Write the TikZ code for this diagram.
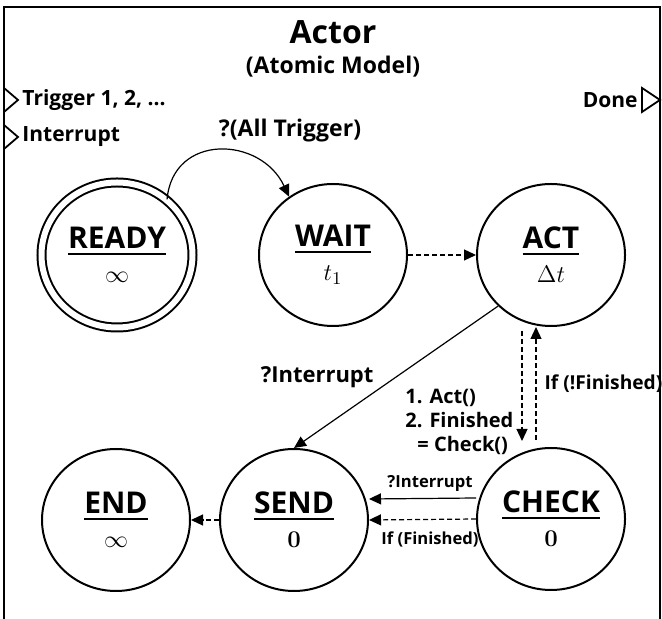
\documentclass[tikz,border=0pt]{standalone}
\usepackage[no-math]{fontspec}
\setmainfont{Open Sans}
\usetikzlibrary{arrows.meta,positioning,shapes.geometric}

% state title with a heavy underline
\newcommand\stname[1]{\leavevmode\vtop{\hbox{#1}\kern2pt\hrule height 1pt}}
\newcommand\stval[1]{{\fontsize{13}{13}\selectfont #1}}

\begin{document}
\begin{tikzpicture}[
  state/.style={ellipse, draw, line width=1pt, minimum width=74pt, minimum height=71pt,
                inner sep=0pt, align=center, font=\fontsize{15}{17}\selectfont\bfseries},
  accepting/.style={double, double distance=3pt, minimum width=75.5pt, minimum height=72.5pt},
  arr/.style={-{Triangle[length=6pt,width=5.5pt]}, line width=0.6pt},
  dasharr/.style={arr, dash pattern=on 2.5pt off 1.5pt},
  port/.style={draw, line width=0.9pt, line join=miter},
  lbl/.style={font=\fontsize{10}{12}\selectfont\bfseries, inner sep=1pt},
  small/.style={font=\fontsize{8.3}{10}\selectfont\bfseries, inner sep=1pt}]
\useasboundingbox (0,0) rectangle (331pt,309.5pt);

% frame of the atomic model
\draw[line width=0.8pt] (2pt,0) -- (2pt,306pt) -- (330pt,306pt) -- (330pt,0);
\node[font=\fontsize{16}{16}\selectfont\bfseries] (title) at (166.5pt,293.5pt) {Actor};
\node[font=\fontsize{11.5}{12}\selectfont\bfseries] (sub) at (166.5pt,276pt) {(Atomic Model)};

% ports
\coordinate (trigger) at (2pt,259.5pt);
\coordinate (intr) at (2pt,241pt);
\coordinate (done) at (330pt,259.5pt);
\draw[port] ([yshift=6pt]trigger) -- ++(7pt,-6pt) -- ++(-7pt,-6pt);
\draw[port] ([yshift=6pt]intr) -- ++(7pt,-6pt) -- ++(-7pt,-6pt);
\draw[port] (done) -- ++(-9pt,6pt) -- ++(0,-12pt) -- cycle;
\node[lbl, font=\fontsize{10.5}{12}\selectfont\bfseries, right=8pt of trigger] {Trigger 1, 2, ...};
\node[lbl, font=\fontsize{10.5}{12}\selectfont\bfseries, right=8pt of intr] {Interrupt};
\node[lbl, font=\fontsize{10.5}{12}\selectfont\bfseries, left=10pt of done] {Done};

% states
\node[state, accepting] (ready) at (58.5pt,182pt) {\stname{READY}\\\stval{$\infty$}};
\node[state] (wait) at (166.5pt,182pt) {\stname{WAIT}\\\stval{$t_1$}};
\node[state, right=34pt of wait] (act) {\stname{ACT}\\\stval{$\Delta t$}};
\node[state, below=60pt of act] (check) {\stname{CHECK}\\\stval{$\mathbf{0}$}};
\node[state] (endst) at (58pt,49.5pt) {\stname{END}\\\stval{$\infty$}};
\node[state, right=14pt of endst] (send) {\stname{SEND}\\\stval{$\mathbf{0}$}};

% transitions
\draw[arr] (ready.48) to[out=85, in=115, looseness=1.4] (wait.127);
\node[lbl, font=\fontsize{11.5}{12}\selectfont\bfseries] (alltrig) at (145pt,244pt) {?(All Trigger)};
\draw[dasharr] (wait) -- (act);
\draw[arr] (act.224) -- (send.north)
  node[lbl, font=\fontsize{11}{12}\selectfont\bfseries, midway, left=10pt] {?Interrupt};
\draw[dasharr, shorten <=2pt, shorten >=3pt] ([xshift=-14.5pt]act.south) -- ([xshift=-14.5pt]check.north)
  node[lbl, align=left, pos=0.79, left=3pt] {1. Act()\\2. Finished\\\hspace*{6pt}= Check()};
\draw[dasharr, shorten <=3.5pt] ([xshift=-7.5pt]check.north) -- ([xshift=-7.5pt]act.south)
  node[lbl, font=\fontsize{9.6}{12}\selectfont\bfseries, pos=0.53, right=3pt] {If (!Finished)};
\draw[arr] ([yshift=10.5pt]check.west) -- ([yshift=10.5pt]send.east)
  node[small, pos=0.43, above=2pt] {?Interrupt};
\draw[dasharr] (check.west) -- (send.east)
  node[small, pos=0.43, below=5pt] {If (Finished)};
\draw[dasharr] (send.west) -- (endst.east);
\end{tikzpicture}
\end{document}
